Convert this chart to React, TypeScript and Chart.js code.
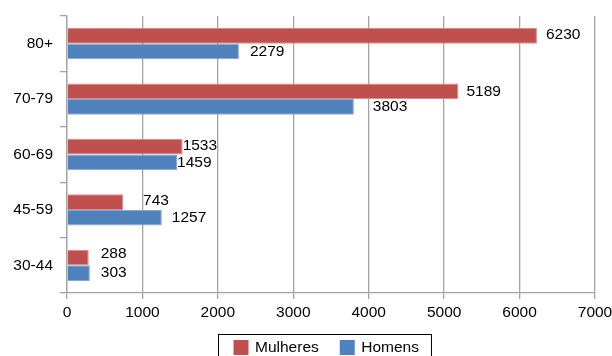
import React, { useEffect, useRef } from "react";
import { Chart, registerables } from "chart.js";

Chart.register(...registerables);

// Age bands, top to bottom
const ageGroups = ["80+", "70-79", "60-69", "45-59", "30-44"];
const mulheres = [6230, 5189, 1533, 743, 288];
const homens = [2279, 3803, 1459, 1257, 303];
const xTicks = [0, 1000, 2000, 3000, 4000, 5000, 6000, 7000];

const seriesNames = ["Mulheres", "Homens"];
const seriesColors = ["#C0504D", "#4F81BD"];
const seriesEdges = ["#D98A88", "#86A8D4"];

// Pixel nudges for the value labels (per series, per category)
const labelDx = [
  [9, 8, 0, 20, 12],
  [11, 19, 0, 10, 11],
];
const labelDy = [
  [-1.5, 0, -1, -1, -4],
  [0, 0, 0, 0, 0],
];

const FONT = "'Liberation Sans', Arial, Helvetica, sans-serif";
const FONT_SIZE = 15.5;
const GRID = "#a3a3a3";

const valueLabels = {
  id: "valueLabels",
  afterDatasetsDraw(chart: any) {
    const ctx = chart.ctx;
    ctx.save();
    ctx.font = `${FONT_SIZE}px ${FONT}`;
    ctx.fillStyle = "#000";
    ctx.textAlign = "left";
    ctx.textBaseline = "middle";
    chart.data.datasets.forEach((ds: any, di: number) => {
      const meta = chart.getDatasetMeta(di);
      meta.data.forEach((bar: any, i: number) => {
        const v = ds.data[i];
        ctx.fillText(String(v), bar.x + labelDx[di][i], bar.y + labelDy[di][i]);
      });
    });
    ctx.restore();
  },
};

const boxedLegend = {
  id: "boxedLegend",
  afterDraw(chart: any) {
    const ctx = chart.ctx;
    const area = chart.chartArea;
    ctx.save();
    ctx.font = `${FONT_SIZE}px ${FONT}`;
    const sq = 15;
    const gap = 6.5;
    const itemGap = 21;
    const padL = 15;
    const padR = 12.5;
    const widths = seriesNames.map((n) => ctx.measureText(n).width);
    let total = padL + padR;
    widths.forEach((w, i) => {
      total += sq + gap + w + (i < widths.length - 1 ? itemGap : 0);
    });
    const left = Math.round((area.left + area.right) / 2 - 6.5 - total / 2) + 0.5;
    const top = area.bottom + 41.5;
    ctx.strokeStyle = "#000";
    ctx.lineWidth = 1;
    ctx.strokeRect(left, top, total, 40);
    let x = left + padL;
    const cy = top + 13;
    chart.data.datasets.forEach((ds: any, i: number) => {
      ctx.fillStyle = ds.backgroundColor;
      ctx.fillRect(x, cy - sq / 2, sq, sq);
      x += sq + gap;
      ctx.fillStyle = "#000";
      ctx.textAlign = "left";
      ctx.textBaseline = "middle";
      ctx.fillText(ds.label, x, cy);
      x += widths[i] + itemGap;
    });
    ctx.restore();
  },
};

export default function App() {
  const canvasRef = useRef<HTMLCanvasElement | null>(null);

  useEffect(() => {
    document.body.style.margin = "0";
    const canvas = canvasRef.current;
    if (!canvas) return;
    const chart = new Chart(canvas, {
      type: "bar",
      data: {
        labels: ageGroups,
        datasets: [
          {
            label: seriesNames[0],
            data: mulheres,
            backgroundColor: seriesColors[0],
            borderColor: seriesEdges[0],
            borderWidth: 1,
          },
          {
            label: seriesNames[1],
            data: homens,
            backgroundColor: seriesColors[1],
            borderColor: seriesEdges[1],
            borderWidth: 1,
          },
        ],
      },
      options: {
        indexAxis: "y",
        animation: false,
        responsive: false,
        maintainAspectRatio: false,
        datasets: {
          bar: { barPercentage: 1, categoryPercentage: 0.565 },
        },
        layout: { padding: { top: 16, right: 17, bottom: 32, left: 0 } },
        plugins: {
          legend: { display: false },
          tooltip: { enabled: false },
          title: { display: false },
        },
        scales: {
          x: {
            type: "linear",
            min: 0,
            max: 7000,
            afterBuildTicks: (scale: any) => {
              scale.ticks = xTicks.map((value) => ({ value }));
            },
            afterFit: (scale: any) => {
              scale.height = 31;
              scale.paddingLeft = 0;
              scale.paddingRight = 0;
            },
            ticks: {
              color: "#000",
              font: { family: FONT, size: FONT_SIZE },
              padding: 4,
              maxRotation: 0,
              callback: (value: any) => String(value),
            },
            grid: {
              color: GRID,
              lineWidth: 1.3,
              tickLength: 6,
              drawTicks: true,
            },
            border: { display: true, color: GRID, width: 1.3 },
          },
          y: {
            type: "category",
            afterFit: (scale: any) => {
              scale.width = 67;
              scale.paddingTop = 0;
              scale.paddingBottom = 0;
            },
            ticks: {
              color: "#000",
              font: { family: FONT, size: FONT_SIZE },
              padding: 7,
            },
            grid: {
              offset: true,
              drawOnChartArea: false,
              color: GRID,
              lineWidth: 1.3,
              tickLength: 7,
            },
            border: { display: true, color: GRID, width: 1.3 },
          },
        },
      },
      plugins: [valueLabels, boxedLegend],
    } as any);
    return () => chart.destroy();
  }, []);

  return (
    <div style={{ width: 612, height: 356, position: "relative", background: "#fff" }}>
      <canvas ref={canvasRef} width={612} height={356} style={{ display: "block" }} />
    </div>
  );
}
